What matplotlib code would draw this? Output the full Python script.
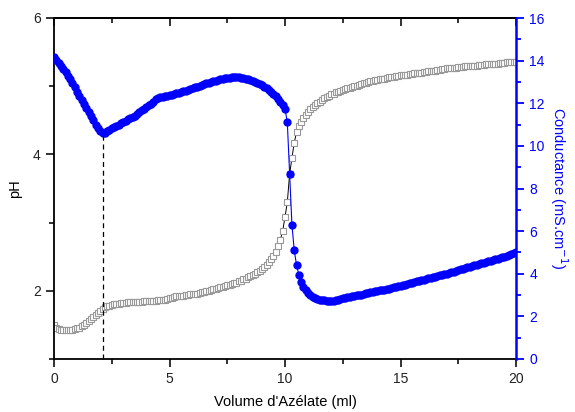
import numpy as np
from matplotlib import pyplot as plt
from matplotlib.ticker import MultipleLocator

plt.rcParams['font.family'] = ['Liberation Sans', 'DejaVu Sans']

# titration volume (ml), step 0.1
volume = np.round(np.arange(0, 20.01, 0.1), 1)

# pH readings (gray squares)
ph = [
    1.50, 1.45, 1.44, 1.43, 1.43, 1.43, 1.43, 1.43, 1.43, 1.44,
    1.45, 1.46, 1.48, 1.50, 1.53, 1.56, 1.59, 1.62, 1.65, 1.68,
    1.71, 1.74, 1.76, 1.77, 1.78, 1.79, 1.80, 1.80, 1.81, 1.82,
    1.82, 1.82, 1.83, 1.83, 1.83, 1.84, 1.84, 1.84, 1.84, 1.85,
    1.85, 1.85, 1.85, 1.85, 1.85, 1.86, 1.86, 1.87, 1.87, 1.88,
    1.89, 1.90, 1.91, 1.92, 1.92, 1.93, 1.93, 1.94, 1.94, 1.95,
    1.95, 1.96, 1.96, 1.97, 1.98, 1.98, 1.99, 2.00, 2.01, 2.02,
    2.03, 2.04, 2.05, 2.06, 2.07, 2.08, 2.09, 2.10, 2.11, 2.12,
    2.14, 2.15, 2.17, 2.18, 2.20, 2.21, 2.23, 2.25, 2.27, 2.29,
    2.32, 2.35, 2.38, 2.42, 2.46, 2.51, 2.57, 2.66, 2.75, 2.88,
    3.08, 3.30, 3.71, 3.95, 4.17, 4.33, 4.42, 4.48, 4.54, 4.58,
    4.62, 4.66, 4.69, 4.72, 4.75, 4.77, 4.80, 4.82, 4.84, 4.86,
    4.88, 4.89, 4.91, 4.92, 4.93, 4.95, 4.96, 4.97, 4.98, 4.99,
    5.00, 5.01, 5.02, 5.03, 5.04, 5.05, 5.06, 5.07, 5.08, 5.09,
    5.09, 5.10, 5.11, 5.11, 5.12, 5.13, 5.13, 5.14, 5.15, 5.15,
    5.16, 5.16, 5.17, 5.17, 5.18, 5.18, 5.19, 5.19, 5.20, 5.20,
    5.21, 5.21, 5.22, 5.22, 5.23, 5.23, 5.24, 5.24, 5.25, 5.25,
    5.26, 5.26, 5.27, 5.27, 5.27, 5.28, 5.28, 5.28, 5.29, 5.29,
    5.29, 5.30, 5.30, 5.30, 5.31, 5.31, 5.31, 5.32, 5.32, 5.32,
    5.33, 5.33, 5.33, 5.34, 5.34, 5.34, 5.35, 5.35, 5.35, 5.36,
    5.36,
]

# conductance readings, mS/cm (blue dots)
conductance = [
    14.15, 14.05, 13.90, 13.75, 13.60, 13.45, 13.30, 13.15, 12.95, 12.75,
    12.55, 12.35, 12.15, 11.95, 11.80, 11.60, 11.40, 11.20, 11.00, 10.85,
    10.70, 10.60, 10.62, 10.70, 10.76, 10.82, 10.88, 10.94, 11.00, 11.06,
    11.12, 11.18, 11.24, 11.30, 11.36, 11.42, 11.50, 11.58, 11.66, 11.74,
    11.82, 11.90, 11.98, 12.08, 12.18, 12.25, 12.28, 12.30, 12.33, 12.36,
    12.38, 12.41, 12.44, 12.47, 12.50, 12.53, 12.56, 12.59, 12.63, 12.67,
    12.70, 12.74, 12.77, 12.81, 12.85, 12.89, 12.93, 12.96, 13.00, 13.03,
    13.06, 13.09, 13.12, 13.15, 13.17, 13.19, 13.20, 13.21, 13.22, 13.22,
    13.21, 13.20, 13.18, 13.16, 13.13, 13.10, 13.06, 13.01, 12.96, 12.90,
    12.84, 12.77, 12.70, 12.62, 12.53, 12.43, 12.33, 12.21, 12.07, 11.92,
    11.75, 11.10, 8.70, 6.30, 5.10, 4.40, 3.95, 3.60, 3.40, 3.22,
    3.08, 2.98, 2.91, 2.85, 2.81, 2.79, 2.77, 2.75, 2.74, 2.73,
    2.72, 2.73, 2.75, 2.78, 2.81, 2.84, 2.87, 2.90, 2.92, 2.94,
    2.96, 2.98, 3.00, 3.02, 3.05, 3.08, 3.10, 3.13, 3.16, 3.18,
    3.20, 3.22, 3.24, 3.26, 3.28, 3.30, 3.33, 3.36, 3.39, 3.41,
    3.43, 3.46, 3.49, 3.52, 3.55, 3.58, 3.61, 3.64, 3.67, 3.70,
    3.72, 3.75, 3.78, 3.80, 3.83, 3.86, 3.89, 3.92, 3.95, 3.98,
    4.01, 4.04, 4.07, 4.10, 4.13, 4.16, 4.20, 4.24, 4.28, 4.31,
    4.34, 4.37, 4.40, 4.43, 4.46, 4.49, 4.52, 4.55, 4.58, 4.61,
    4.64, 4.67, 4.70, 4.74, 4.77, 4.80, 4.84, 4.88, 4.92, 4.96,
    5.00,
]

blue = '#0000ff'

fig = plt.figure(figsize=(5.75, 4.12), dpi=100)
ax = fig.add_axes([54/575., 53/412., 462/575., 341/412.])
ax2 = ax.twinx()

ax.plot(volume, ph, color='k', lw=0.7, marker='s', ms=5,
        mfc='white', mec='#999999', mew=0.8)
ax2.plot(volume, conductance, color=blue, lw=0.8, marker='o', ms=5,
         mfc=blue, mec=blue)

# dashed line at the first conductance minimum
imin = int(np.argmin(conductance[:50]))
ax2.plot([volume[imin], volume[imin]], [0, conductance[imin]],
         color='k', ls='--', lw=0.9, dashes=(4, 3))

ax.set_xlim(0, 20)
ax.set_ylim(1, 6)
ax2.set_ylim(0, 16)

ax.xaxis.set_major_locator(MultipleLocator(5))
ax.xaxis.set_minor_locator(MultipleLocator(2.5))
ax.yaxis.set_major_locator(MultipleLocator(2))
ax.yaxis.set_minor_locator(MultipleLocator(1))
ax2.yaxis.set_major_locator(MultipleLocator(2))
ax2.yaxis.set_minor_locator(MultipleLocator(1))

ax.tick_params(which='both', direction='out', labelsize=10, width=1.3,
               colors='#222222')
ax.tick_params(which='major', length=6)
ax.tick_params(which='minor', length=3.5)
ax2.tick_params(which='both', direction='out', labelsize=10, width=1.3,
                colors=blue)
ax2.tick_params(which='major', length=6)
ax2.tick_params(which='minor', length=3.5)

# inward ticks along the top frame
top = ax.secondary_xaxis('top')
top.xaxis.set_major_locator(MultipleLocator(5))
top.xaxis.set_minor_locator(MultipleLocator(2.5))
top.tick_params(which='both', direction='in', width=1.3, labeltop=False,
                colors='#222222')
top.tick_params(which='major', length=6)
top.tick_params(which='minor', length=3.5)
top.spines['top'].set_linewidth(1.3)

for s in ['left', 'bottom', 'top']:
    ax.spines[s].set_linewidth(1.3)
ax.spines['right'].set_visible(False)
for s in ['left', 'bottom', 'top']:
    ax2.spines[s].set_visible(False)
ax2.spines['right'].set_color(blue)
ax2.spines['right'].set_linewidth(1.8)

ax.set_xlabel("Volume d'Azélate (ml)", fontsize=10.5, labelpad=6)
ax.set_ylabel('pH', fontsize=10.5, labelpad=8)
ax2.set_ylabel('Conductance (mS.cm$^{-1}$)', fontsize=10.5, color=blue,
               rotation=270, labelpad=18)

plt.savefig('out.png', dpi=100)
